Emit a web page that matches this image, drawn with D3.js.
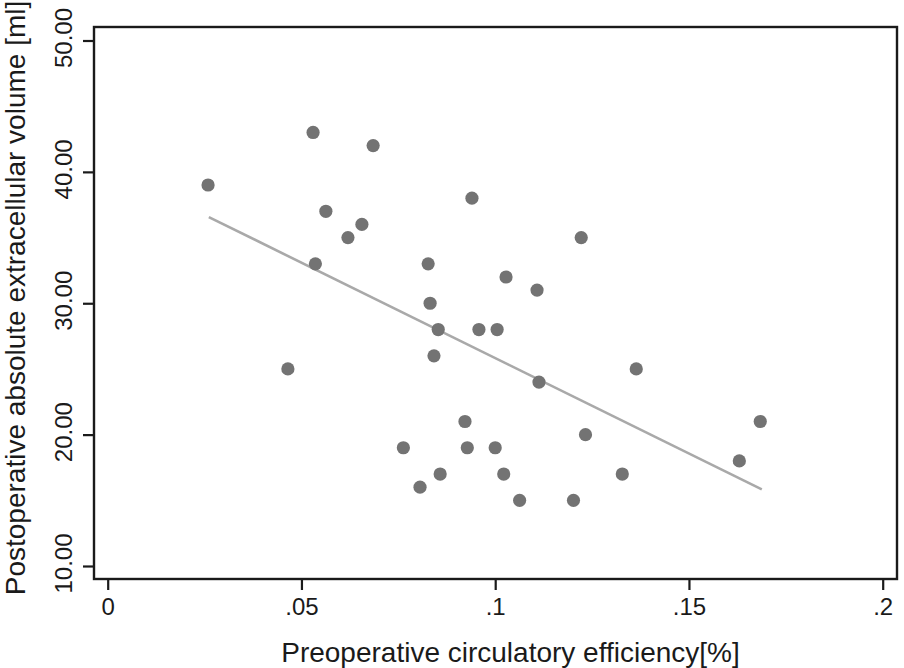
<!DOCTYPE html>
<html>
<head>
<meta charset="utf-8">
<script src="https://cdn.jsdelivr.net/npm/d3@7"></script>
<style>
  html, body { margin: 0; padding: 0; background: #fff; }
  svg { display: block; }
  text { font-family: "Liberation Sans", Arial, Helvetica, sans-serif; fill: #1a1a1a; }
</style>
</head>
<body>
<svg id="chart" width="904" height="668"></svg>
<script>
// ---- data ----
const efficiency = [0.0259, 0.0530, 0.0685, 0.0563, 0.0620, 0.0656, 0.0536, 0.0465,
  0.0827, 0.0832, 0.0853, 0.0842, 0.0940, 0.0958, 0.1005, 0.1028, 0.1108, 0.1113,
  0.1222, 0.1364, 0.0922, 0.0763, 0.0928, 0.1000, 0.0806, 0.0858, 0.1022, 0.1063,
  0.1202, 0.1233, 0.1328, 0.1630, 0.1684];
const volume = [39, 43, 42, 37, 35, 36, 33, 25,
  33, 30, 28, 26, 38, 28, 28, 32, 31, 24,
  35, 25, 21, 19, 19, 19, 16, 17, 17, 15,
  15, 20, 17, 18, 21];
const fitX = [0.0261, 0.1688];
const fitY = [36.56, 15.83];
const xTicks = [0, 0.05, 0.1, 0.15, 0.2];
const xTickLabels = ["0", ".05", ".1", ".15", ".2"];
const yTicks = [10, 20, 30, 40, 50];
const yTickLabels = ["10.00", "20.00", "30.00", "40.00", "50.00"];
const xTitle = "Preoperative circulatory efficiency[%]";
const yTitle = "Postoperative absolute extracellular volume [ml]";

// ---- layout ----
const frame = { left: 94, right: 897, top: 27, bottom: 579 };
const svg = d3.select("#chart");

const x = d3.scaleLinear().domain([0, 0.2]).range([107.7, 882.7]);
const y = d3.scaleLinear().domain([10, 50]).range([566, 40.5]);

// frame
svg.append("rect")
  .attr("x", frame.left).attr("y", frame.top)
  .attr("width", frame.right - frame.left)
  .attr("height", frame.bottom - frame.top)
  .attr("fill", "none").attr("stroke", "#1a1a1a").attr("stroke-width", 2.4);

// x axis
const xAxis = d3.axisBottom(x).tickValues(xTicks)
  .tickFormat((d, i) => xTickLabels[i]).tickSize(10).tickPadding(10);
const gx = svg.append("g").attr("transform", `translate(0,${frame.bottom + 1})`).call(xAxis);
gx.select(".domain").remove();
gx.selectAll(".tick line").attr("stroke", "#1a1a1a").attr("stroke-width", 2.2);
gx.selectAll(".tick text").attr("font-size", 24).attr("fill", "#1a1a1a")
  .attr("dy", null).attr("y", 35);

// y axis
const yAxis = d3.axisLeft(y).tickValues(yTicks)
  .tickFormat((d, i) => yTickLabels[i]).tickSize(10);
const gy = svg.append("g").attr("transform", `translate(${frame.left - 1},0)`).call(yAxis);
gy.select(".domain").remove();
gy.selectAll(".tick line").attr("stroke", "#1a1a1a").attr("stroke-width", 2.2);
gy.selectAll(".tick text").attr("font-size", 24).attr("fill", "#1a1a1a")
  .attr("x", null).attr("dy", null)
  .attr("text-anchor", "middle")
  .attr("transform", "translate(-21,-3) rotate(-90)")
  .attr("x", 0).attr("y", 0);

// fit line
svg.append("line")
  .attr("x1", x(fitX[0])).attr("y1", y(fitY[0]))
  .attr("x2", x(fitX[1])).attr("y2", y(fitY[1]))
  .attr("stroke", "#a9a9a9").attr("stroke-width", 2.6);

// points
svg.append("g").selectAll("circle")
  .data(efficiency.map((e, i) => [e, volume[i]]))
  .join("circle")
  .attr("cx", d => x(d[0])).attr("cy", d => y(d[1]))
  .attr("r", 6.6).attr("fill", "#737373");

// titles
svg.append("text")
  .attr("x", 510.5).attr("y", 661.5)
  .attr("text-anchor", "middle").attr("font-size", 28)
  .text(xTitle);
svg.append("text")
  .attr("transform", "translate(25,298) rotate(-90)")
  .attr("text-anchor", "middle").attr("font-size", 28)
  .text(yTitle);
</script>
</body>
</html>
